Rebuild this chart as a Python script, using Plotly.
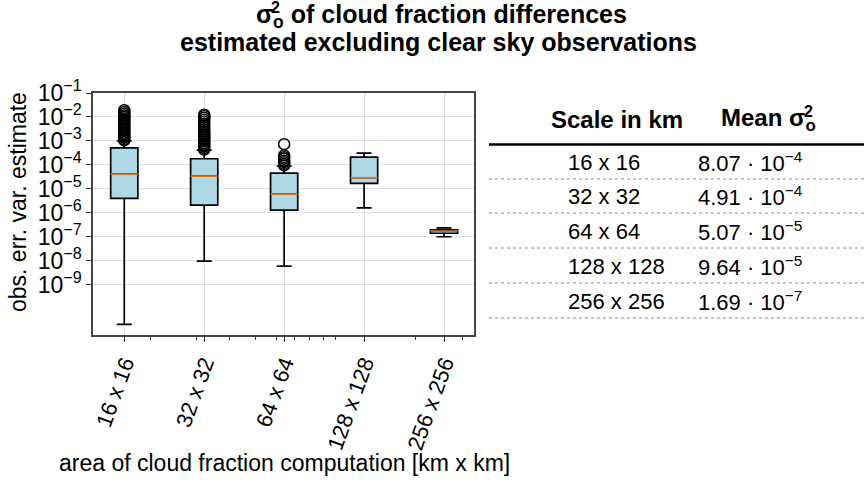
import numpy as np
import plotly.graph_objects as go

# ---------------- data ----------------
scales = [16, 32, 64, 128, 256]
tick_labels = ["16 x 16", "32 x 32", "64 x 64", "128 x 128", "256 x 256"]
q1 = [4.0e-6, 2.1e-6, 1.3e-6, 1.7e-5, 1.40e-7]
median = [4.1e-5, 3.4e-5, 6.0e-6, 2.9e-5, 1.73e-7]
q3 = [5.1e-4, 1.8e-4, 4.5e-5, 2.1e-4, 1.94e-7]
lower_whisker = [2.2e-11, 9.7e-9, 5.9e-9, 1.6e-6, 1.0e-7]
upper_whisker = [1.0e-3, 4.1e-4, 8.9e-5, 3.1e-4, 2.36e-7]
outliers = [
    [1.05e-3, 1.2e-3, 1.4e-3, 1.6e-3, 1.9e-3, 2.2e-3, 2.6e-3, 3.0e-3, 3.5e-3, 4.1e-3,
     4.8e-3, 5.5e-3, 6.4e-3, 7.5e-3, 8.7e-3, 1.0e-2, 1.15e-2, 1.35e-2, 1.6e-2, 1.9e-2],
    [4.3e-4, 5.0e-4, 5.8e-4, 6.8e-4, 8.0e-4, 9.5e-4, 1.1e-3, 1.3e-3, 1.55e-3, 1.8e-3,
     2.1e-3, 2.5e-3, 3.0e-3, 3.6e-3, 4.3e-3, 5.2e-3, 6.3e-3, 7.6e-3, 9.2e-3, 1.1e-2, 1.25e-2],
    [9.5e-5, 1.1e-4, 1.3e-4, 1.5e-4, 1.8e-4, 2.1e-4, 2.5e-4, 7.3e-4],
    [],
    [],
]
mean_sigma = [8.07e-4, 4.91e-4, 5.07e-5, 9.64e-5, 1.69e-7]
y_tick_exponents = [-1, -2, -3, -4, -5, -6, -7, -8, -9]
x_minor_ticks = [20, 30, 40, 50, 60, 70, 80, 90, 100, 200, 300]

# ---------------- styling ----------------
FONT = "Liberation Sans"
BOX_W = 0.34
MEDIAN_C = "#e5731b"
W, H = 864, 484
L, R, T, B = 93, 474, 93, 335  # plot area in pixels

pos = np.log2(scales)

fig = go.Figure()
for i in range(len(scales)):
    fig.add_trace(go.Box(
        x=[pos[i]], q1=[q1[i]], median=[median[i]], q3=[q3[i]],
        lowerfence=[lower_whisker[i]], upperfence=[upper_whisker[i]],
        width=BOX_W, whiskerwidth=0.55,
        fillcolor="#add8e6", line=dict(color="black", width=1.7),
        showlegend=False, hoverinfo="skip",
    ))
    fig.add_trace(go.Scatter(
        x=[pos[i] - BOX_W / 2, pos[i] + BOX_W / 2], y=[median[i], median[i]],
        mode="lines", line=dict(color=MEDIAN_C, width=1.7),
        showlegend=False, hoverinfo="skip",
    ))
    if outliers[i]:
        fig.add_trace(go.Scatter(
            x=[pos[i]] * len(outliers[i]), y=outliers[i], mode="markers",
            marker=dict(symbol="circle-open", size=11, color="black",
                        line=dict(width=1.5, color="black")),
            showlegend=False, hoverinfo="skip",
        ))

def px(xp):
    return (xp - L) / (R - L)

def py(yp):
    return (B - yp) / (B - T)

def text_at(x, y, text, size, xanchor="center", bold=False, angle=0):
    t = f"<b>{text}</b>" if bold else text
    return dict(x=px(x), y=py(y), xref="paper", yref="paper", xanchor=xanchor,
                yanchor="middle", text=t, showarrow=False, textangle=angle,
                font=dict(family=FONT, size=size, color="black"))

annotations = []
shapes = []
# figure title
annotations.append(text_at(254, 16, "σ<sub>o</sub> of cloud fraction differences", 25,
                           xanchor="left", bold=True))
annotations.append(text_at(275, 7, "2", 16, bold=True))
annotations.append(text_at(438, 42, "estimated excluding clear sky observations", 25,
                           bold=True))
# axis titles
annotations.append(text_at(284, 463, "area of cloud fraction computation [km x km]", 23))
annotations.append(text_at(18, 202, "obs. err. var. estimate", 23, angle=-90))
# table header
annotations.append(text_at(617, 119, "Scale in km", 24, bold=True))
annotations.append(text_at(719, 119, "Mean σ<sub>o</sub>", 24, xanchor="left", bold=True))
annotations.append(text_at(808, 111, "2", 16, bold=True))
shapes.append(dict(type="line", xref="paper", yref="paper",
                   x0=px(489), x1=px(864), y0=py(144.5), y1=py(144.5),
                   line=dict(color="black", width=2.5)))
row_y = [162, 196, 231, 266, 301]
line_y = [179, 213, 248, 283, 318]
for i in range(len(scales)):
    annotations.append(text_at(566, row_y[i], tick_labels[i], 22, xanchor="left"))
    e = int(np.floor(np.log10(mean_sigma[i])))
    m = mean_sigma[i] / 10 ** e
    annotations.append(text_at(696, row_y[i], f"{m:.2f} · 10<sup>−{-e}</sup>", 22,
                               xanchor="left"))
    shapes.append(dict(type="line", xref="paper", yref="paper",
                       x0=px(489), x1=px(864), y0=py(line_y[i]), y1=py(line_y[i]),
                       line=dict(color="#8c8c8c", width=1, dash="dot")))

fig.update_layout(
    width=W, height=H,
    margin=dict(l=L, r=W - R, t=T, b=H - B),
    paper_bgcolor="white", plot_bgcolor="white",
    font=dict(family=FONT, color="black"),
    annotations=annotations, shapes=shapes,
)
x_lo = np.log2(12.2)
x_hi = np.log2(332)
fig.update_xaxes(
    range=[x_lo, x_hi], tickvals=pos, ticktext=tick_labels, tickangle=-70,
    tickfont=dict(family=FONT, size=22, color="black"),
    ticks="outside", ticklen=5, tickwidth=1.2, tickcolor="#333",
    showline=True, linecolor="#444", linewidth=1.5, mirror=True,
    showgrid=True, gridcolor="#e0e0e0", gridwidth=1, zeroline=False,
    automargin=False,
    minor=dict(tickvals=list(np.log2(x_minor_ticks)), ticks="outside", ticklen=3,
               tickcolor="#333", tickwidth=1, showgrid=False),
)
fig.update_yaxes(
    type="log", range=[-11.1, -1],
    tickvals=[10.0 ** k for k in y_tick_exponents],
    ticktext=[f"10<sup>−{-k}</sup>" for k in y_tick_exponents],
    tickfont=dict(family=FONT, size=23, color="black"),
    ticks="outside", ticklen=5, tickwidth=1.2, tickcolor="#333",
    showline=True, linecolor="#444", linewidth=1.5, mirror=True,
    showgrid=True, gridcolor="#e0e0e0", gridwidth=1, zeroline=False,
    automargin=False,
)

fig.write_html("out.html")
